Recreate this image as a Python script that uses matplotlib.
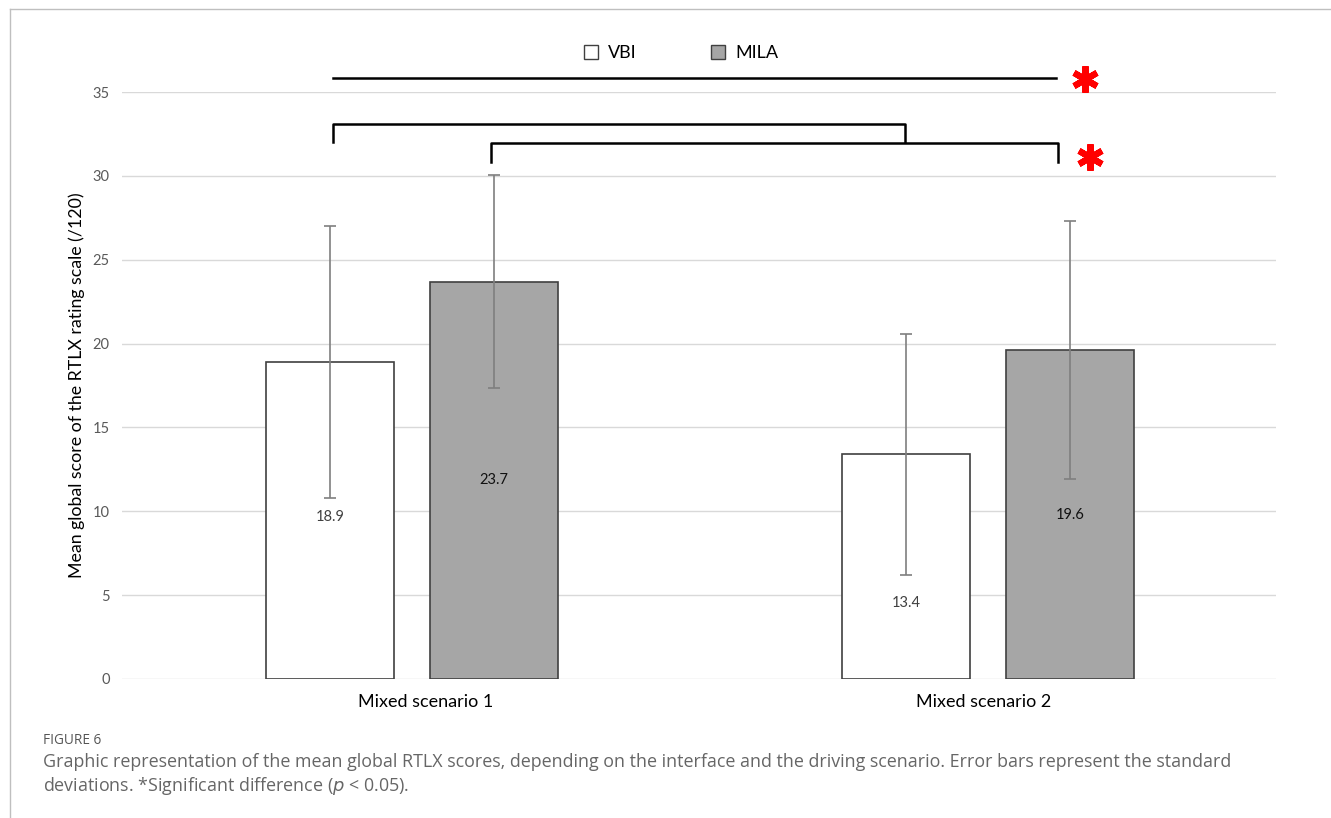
import matplotlib.pyplot as plt
import matplotlib.transforms as mtransforms
import numpy as np
from matplotlib.lines import Line2D

scenarios = ["Mixed scenario 1", "Mixed scenario 2"]
vbi_means = [18.9, 13.4]
mila_means = [23.7, 19.6]
vbi_sd = [8.1, 7.2]
mila_sd = [6.35, 7.7]
yticks = [0, 5, 10, 15, 20, 25, 30, 35]

plt.rcParams["font.family"] = ["Lato", "DejaVu Sans"]

fig = plt.figure(figsize=(13.31, 8.18), dpi=100)
ax = fig.add_axes([122 / 1331, 139 / 818, 1154 / 1331, 587 / 818])

x = np.arange(len(scenarios))
width = 0.222
offset = 0.142

ax.bar(x - offset, vbi_means, width, color="white", edgecolor="#404040",
       linewidth=1.2, zorder=3, label="VBI")
ax.bar(x + offset, mila_means, width, color="#a6a6a6", edgecolor="#404040",
       linewidth=1.2, zorder=3, label="MILA")
ax.errorbar(x - offset, vbi_means, yerr=vbi_sd, fmt="none", ecolor="#7f7f7f",
            elinewidth=1.2, capsize=4, capthick=1.2, zorder=4)
ax.errorbar(x + offset, mila_means, yerr=mila_sd, fmt="none", ecolor="#7f7f7f",
            elinewidth=1.2, capsize=4, capthick=1.2, zorder=4)

# value labels inside the bars (second VBI label pushed below its error bar)
vbi_label_frac = [0.51, 0.34]
for xi, v, f in zip(x - offset, vbi_means, vbi_label_frac):
    ax.text(xi, v * f, f"{v:.1f}", ha="center", va="center", fontsize=10.5,
            color="#404040", zorder=5)
for xi, v in zip(x + offset, mila_means):
    ax.text(xi, v / 2, f"{v:.1f}", ha="center", va="center", fontsize=10.5,
            color="#111111", zorder=5)

ax.set_xlim(-0.503, 1.5)
ax.set_ylim(0, 35)
ax.set_yticks(yticks)
ax.set_xticks(x)
ax.set_xticklabels(scenarios, fontsize=13)
ax.tick_params(axis="y", labelsize=10.5, labelcolor="#595959", length=0, pad=9)
ax.tick_params(axis="x", length=0, pad=11)
# category labels sit slightly off-centre in the original
for lbl, dx in zip(ax.get_xticklabels(), [14, -4]):
    lbl.set_transform(lbl.get_transform() +
                      mtransforms.ScaledTranslation(dx / 100, 0, fig.dpi_scale_trans))
ax.grid(axis="y", color="#d9d9d9", linewidth=1, zorder=0)
for s in ax.spines.values():
    s.set_visible(False)
ax.set_ylabel("Mean global score of the RTLX rating scale (/120)", fontsize=12.8,
              labelpad=5)

# significance brackets
br = dict(color="black", linewidth=1.8, clip_on=False, zorder=6)
ax.plot([-0.137, 1.118], [35.84, 35.84], **br)
ax.plot([-0.137, -0.137, 0.856, 0.856], [32.0, 33.1, 33.1, 32.0], **br)
ax.plot([0.137, 0.137, 1.121, 1.121], [30.85, 31.96, 31.96, 30.85], **br)
star = dict(marker=(6, 2, 0), markersize=19, markeredgewidth=4.5, color="red",
            linestyle="none", clip_on=False, zorder=6)
ax.plot([1.168], [35.75], **star)
ax.plot([1.177], [31.1], **star)

handles = [
    Line2D([], [], marker="s", linestyle="none", markersize=9.5,
           markerfacecolor="white", markeredgecolor="#404040"),
    Line2D([], [], marker="s", linestyle="none", markersize=9.5,
           markerfacecolor="#a6a6a6", markeredgecolor="#404040"),
]
fig.legend(handles, ["VBI", "MILA"], loc="center", ncol=2, frameon=False,
           bbox_to_anchor=(678 / 1331, 1 - 53 / 818), fontsize=13,
           handlelength=1.5, handletextpad=0.2, columnspacing=3.75)

# frame lines of the page
fig.add_artist(Line2D([10 / 1331, 10 / 1331], [0, 1 - 9 / 818],
                      transform=fig.transFigure, color="#bfbfbf", linewidth=1))
fig.add_artist(Line2D([10 / 1331, 1], [1 - 9 / 818, 1 - 9 / 818],
                      transform=fig.transFigure, color="#bfbfbf", linewidth=1))

# caption
cap_font = ["Open Sans", "DejaVu Sans"]
fig.text(43 / 1331, 1 - 740 / 818, "FIGURE 6", fontsize=9.8, color="#555555",
         family=cap_font, va="center", weight="medium")
fig.text(43 / 1331, 1 - 762 / 818,
         "Graphic representation of the mean global RTLX scores, depending on the "
         "interface and the driving scenario. Error bars represent the standard",
         fontsize=12.9, color="#666666", family=cap_font, va="center")
fig.text(43 / 1331, 1 - 786 / 818,
         "deviations. *Significant difference ($\\it{p}$ < 0.05).",
         fontsize=12.9, color="#666666", family=cap_font, va="center")

fig.savefig("out.png", dpi=100, facecolor="white")
